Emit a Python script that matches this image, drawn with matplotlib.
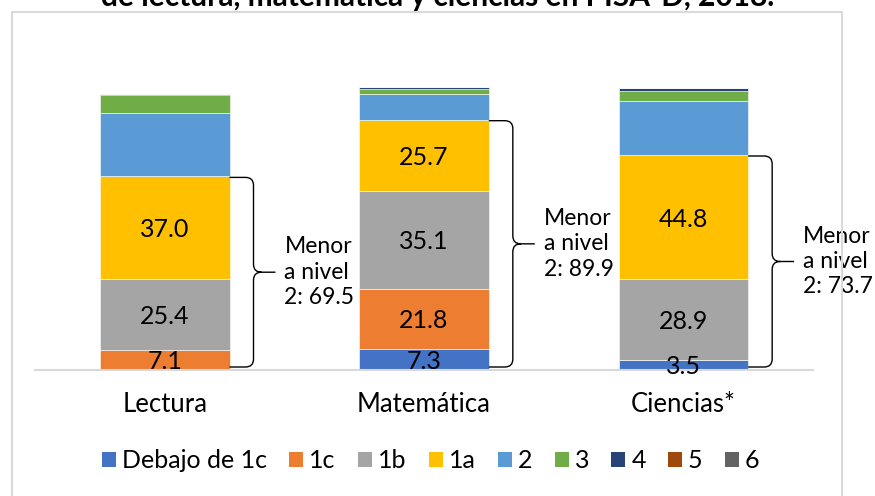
import matplotlib
matplotlib.use('Agg')
import matplotlib.pyplot as plt
from matplotlib.path import Path
from matplotlib.patches import PathPatch, Patch
from matplotlib.lines import Line2D
import numpy as np

plt.rcParams['font.family'] = ['Lato', 'DejaVu Sans']

# ---------------- data ----------------
categories = ['Lectura', 'Matemática', 'Ciencias*']
levels = ['Debajo de 1c', '1c', '1b', '1a', '2', '3', '4', '5', '6']
debajo_1c = [0.0, 7.3, 3.5]
nivel_1c = [7.1, 21.8, 0.0]
nivel_1b = [25.4, 35.1, 28.9]
nivel_1a = [37.0, 25.7, 44.8]
nivel_2 = [22.6, 9.2, 19.5]
nivel_3 = [6.6, 1.8, 3.5]
nivel_4 = [0.4, 0.8, 1.0]
nivel_5 = [0.0, 0.0, 0.0]
nivel_6 = [0.0, 0.0, 0.0]
menor_nivel2 = [69.5, 89.9, 73.7]
labelled_levels = ['Debajo de 1c', '1c', '1b', '1a']
title_line = 'de lectura, matemática y ciencias en PISA-D, 2018.'

series = [debajo_1c, nivel_1c, nivel_1b, nivel_1a, nivel_2,
          nivel_3, nivel_4, nivel_5, nivel_6]
colors = ['#4472C4', '#ED7D31', '#A5A5A5', '#FFC000', '#5B9BD5',
          '#70AD47', '#264478', '#9E480E', '#636363']

# ---------------- layout ----------------
W, H = 875, 496
fig = plt.figure(figsize=(W / 100, H / 100), dpi=100)
ax_left, ax_right = 35, 813
ax_base = 369.5
px_per_unit = 2.78
ymax = 110
ax = fig.add_axes([ax_left / W, (H - ax_base) / H,
                   (ax_right - ax_left) / W, ymax * px_per_unit / H])
ax.set_xlim(-0.5, 2.5)
ax.set_ylim(0, ymax)
pxx = (ax_right - ax_left) / 3.0

x = np.arange(len(categories))
bottoms = np.zeros(len(categories))
tops_lab = np.zeros(len(categories))
for name, vals, col in zip(levels, series, colors):
    vals = np.array(vals)
    ax.bar(x, vals, width=0.5, bottom=bottoms, color=col,
           edgecolor='white', linewidth=0.4, clip_on=False, zorder=2)
    if name in labelled_levels:
        for i, v in enumerate(vals):
            if v > 0:
                ax.text(x[i], bottoms[i] + v / 2, f'{v:.1f}', ha='center',
                        va='center_baseline', fontsize=18, color='black',
                        zorder=4, clip_on=False)
        tops_lab = tops_lab + vals
    bottoms = bottoms + vals

# braces
rx = 8 / pxx
ry = 8 / px_per_unit
for i in range(len(categories)):
    xe = x[i] + 0.25
    xv = xe + 24 / pxx
    xt = xe + 46 / pxx
    ytop = tops_lab[i] - 0.4
    ybot = 0.9
    ymid = (ytop + ybot) / 2
    verts = [(xe, ytop), (xv - rx, ytop), (xv, ytop), (xv, ytop - ry),
             (xv, ymid + ry), (xv, ymid), (xv + rx, ymid), (xt, ymid),
             (xv + rx, ymid), (xv, ymid), (xv, ymid - ry),
             (xv, ybot + ry), (xv, ybot), (xv - rx, ybot), (xe, ybot)]
    codes = [Path.MOVETO, Path.LINETO, Path.CURVE3, Path.CURVE3,
             Path.LINETO, Path.CURVE3, Path.CURVE3, Path.LINETO,
             Path.MOVETO, Path.CURVE3, Path.CURVE3,
             Path.LINETO, Path.CURVE3, Path.CURVE3, Path.LINETO]
    ax.add_patch(PathPatch(Path(verts, codes), facecolor='none',
                           edgecolor='black', lw=1.0, clip_on=False,
                           zorder=3))
    ax.text(xe + 55 / pxx, ymid, f'Menor\na nivel\n2: {menor_nivel2[i]:.1f}',
            ha='left', va='center', fontsize=16.5, linespacing=1.25,
            clip_on=False, zorder=4)

# axes styling
for s in ['top', 'right', 'left']:
    ax.spines[s].set_visible(False)
ax.spines['bottom'].set_color('#d9d9d9')
ax.spines['bottom'].set_linewidth(1.5)
ax.set_yticks([])
ax.set_xticks(x)
ax.set_xticklabels(categories, fontsize=18.5)
ax.tick_params(axis='x', length=0, pad=16)
ax.patch.set_alpha(0)

# legend
handles = [Patch(facecolor=c, edgecolor='none') for c in colors]
fig.legend(handles, levels, ncol=9, loc='center left',
           bbox_to_anchor=(102 / W, 1 - 461 / H), frameon=False,
           fontsize=18, handlelength=0.56, handleheight=0.56,
           handletextpad=0.24, columnspacing=0.89, borderpad=0,
           borderaxespad=0)

# title (partially cut off at top, as in the reference)
fig.text(438 / W, 1 - 6 / H, title_line, ha='center', va='baseline',
         fontsize=21.5, fontweight='bold')

# chart border
bx0, bx1, by = 12 / W, 841.5 / W, 1 - 12 / H
fig.add_artist(Line2D([bx0, bx0, bx1, bx1], [0, by, by, 0],
                      color='#d9d9d9', lw=1.5, transform=fig.transFigure))

fig.savefig('out.png', dpi=100)
